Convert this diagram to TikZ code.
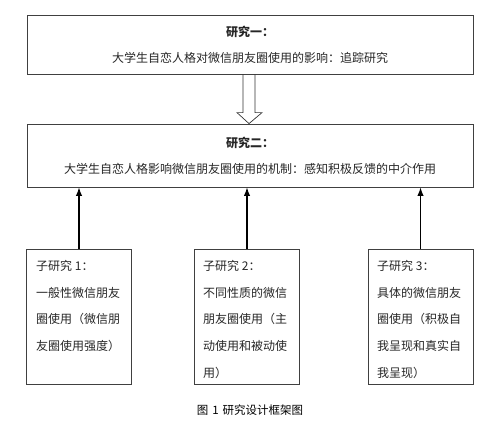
\documentclass[tikz,border=0pt]{standalone}
\usepackage{fontspec}
\setmainfont{Noto Sans CJK SC}
\usetikzlibrary{arrows.meta,positioning}

\begin{document}
\begin{tikzpicture}[x=1pt, y=-1pt, >=Latex,
    every node/.style={font=\fontsize{12}{26}\selectfont, text=black!85},
    mainbox/.style={draw=black!75, line width=0.8pt, minimum width=446pt, align=center},
    subbox/.style={draw=black!75, line width=0.8pt, minimum width=105pt, minimum height=135pt},
    subtext/.style={anchor=north west, inner sep=0pt, align=left, font=\fontsize{12}{26.8}\selectfont},
    uparrow/.style={->, line width=1.2pt, black}]
    \useasboundingbox (0,0) rectangle (498,432);

    % Study one and two
    \node[mainbox, minimum height=59pt] (r1) at (250,44.5) {\textbf{研究一：}\\大学生自恋人格对微信朋友圈使用的影响：追踪研究};
    \node[mainbox, minimum height=63pt] (r2) at (250,155.5) {\textbf{研究二：}\\大学生自恋人格影响微信朋友圈使用的机制：感知积极反馈的中介作用};

    % Hollow arrow between them
    \draw[black!80, line width=0.7pt] ([xshift=-7pt]r1.south) -- ([xshift=-7pt, yshift=11pt]r2.north)
        -- ([xshift=-13pt, yshift=11pt]r2.north) -- ([xshift=-1pt]r2.north)
        -- ([xshift=12pt, yshift=11pt]r2.north) -- ([xshift=5pt, yshift=11pt]r2.north)
        -- ([xshift=5pt]r1.south);

    % Sub studies
    \node[subbox] (s1) at (79,316.5) {};
    \node[subbox] (s2) at (247,316.5) {};
    \node[subbox] (s3) at (420.5,316.5) {};

    \node[subtext] (t1) at (36,260) {子研究 1：\\一般性微信朋友\\圈使用（微信朋\\友圈使用强度）};
    \node[subtext] (t2) at (203,260) {子研究 2：\\不同性质的微信\\朋友圈使用（主\\动使用和被动使\\用）};
    \node[subtext] (t3) at (377,260) {子研究 3：\\具体的微信朋友\\圈使用（积极自\\我呈现和真实自\\我呈现）};

    \draw[uparrow] (s1.north) -- (s1.north |- r2.south);
    \draw[uparrow] (s2.north) -- (s2.north |- r2.south);
    \draw[uparrow] (s3.north) -- (s3.north |- r2.south);

    % Caption
    \node[font=\fontsize{11.5}{14}\selectfont, text=black] (cap) at (250,410) {图\hspace{4pt}1\hspace{4pt}研究设计框架图};
\end{tikzpicture}
\end{document}
